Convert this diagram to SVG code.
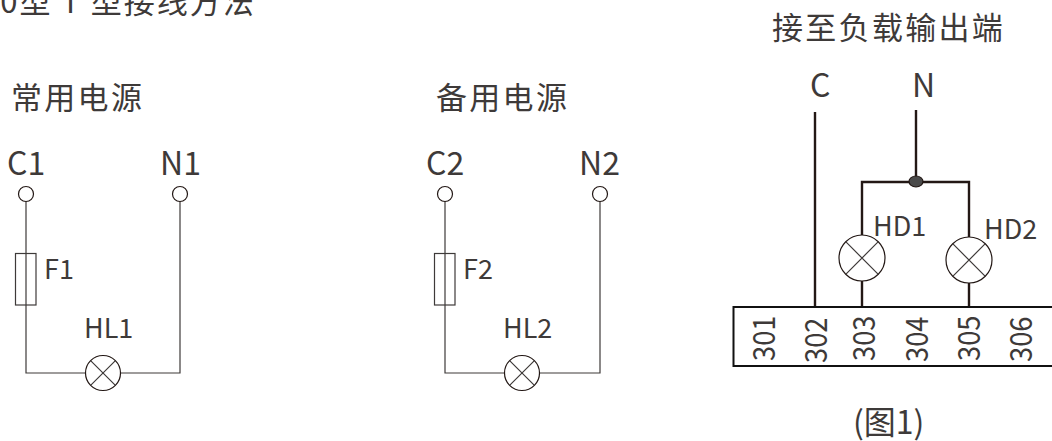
<svg xmlns="http://www.w3.org/2000/svg" width="1052" height="441" viewBox="0 0 1052 441">
<style>
text{font-family:"Noto Sans CJK SC","Noto Sans",sans-serif;fill:#3e3a39;font-size:32px}
.t{font-size:31px;letter-spacing:2.3px}
.w{fill:none;stroke:#3e3a39;stroke-width:1.2}
.k{fill:none;stroke:#231815;stroke-width:2.4}
.n{fill:#fff;stroke:#231815;stroke-width:1.2}
.m{font-size:27px}
.v{font-size:31px}
</style>
<rect width="1052" height="441" fill="#fff"/>
<g id="title"><text x="-19" y="13" class="t" style="letter-spacing:2px" xml:space="preserve">00型 T 型接线方法</text></g>
<g id="connectors">
<path class="w" d="M26 201V373H86M120 373H180V201"/>
<path class="w" d="M445 201V373H505M539 373H600V201"/>
<path class="k" d="M815 112V307M916 110V181M862 235V182H969V237M862 281V307M969 283V307"/>
</g>
<g id="load-title"><text x="772" y="39" class="t">接至负载输出端</text></g>
<g id="group1-title"><text x="11" y="109" class="t">常用电源</text></g>
<g id="group2-title"><text x="436" y="109" class="t">备用电源</text></g>
<g id="C1"><circle class="n" cx="26" cy="194" r="7.5"/><text x="7" y="175">C1</text></g>
<g id="N1"><circle class="n" cx="180" cy="194" r="7.5"/><text x="160" y="175">N1</text></g>
<g id="C2"><circle class="n" cx="445" cy="194" r="7.5"/><text x="426" y="175">C2</text></g>
<g id="N2"><circle class="n" cx="600" cy="194" r="7.5"/><text x="579" y="175">N2</text></g>
<g id="F1"><rect class="w" x="15.5" y="253.5" width="20.5" height="51.5"/><text class="m" x="44" y="279">F1</text></g>
<g id="F2"><rect class="w" x="434.5" y="253.5" width="20.5" height="51.5"/><text class="m" x="463" y="279">F2</text></g>
<g id="HL1"><circle class="n" cx="103" cy="373" r="17.5"/><path class="w" d="M90.6 360.6L115.4 385.4M115.4 360.6L90.6 385.4"/><text class="m" x="84" y="338">HL1</text></g>
<g id="HL2"><circle class="n" cx="522" cy="373" r="17.5"/><path class="w" d="M509.6 360.6L534.4 385.4M534.4 360.6L509.6 385.4"/><text class="m" x="503" y="338">HL2</text></g>
<g id="C"><text x="810" y="97">C</text></g>
<g id="N"><text x="912" y="97">N</text></g>
<g id="junction"><ellipse cx="916" cy="181.5" rx="7" ry="5.5" fill="#4a4a4a" stroke="#231815" stroke-width="1.2"/></g>
<g id="HD1"><circle class="n" cx="862" cy="258" r="23"/><path class="w" d="M845.7 241.7L878.3 274.3M878.3 241.7L845.7 274.3"/><text class="m" x="873" y="236">HD1</text></g>
<g id="HD2"><circle class="n" cx="969" cy="260" r="23"/><path class="w" d="M952.7 243.7L985.3 276.3M985.3 243.7L952.7 276.3"/><text class="m" x="984" y="239">HD2</text></g>
<g id="terminal-block">
<path d="M1052 307H733.5V366H1052" fill="none" stroke="#111" stroke-width="2"/>
<text class="v" transform="translate(775 361) rotate(-90) scale(.88 1)">301</text>
<text class="v" transform="translate(827 363) rotate(-90) scale(.88 1)">302</text>
<text class="v" transform="translate(875 361) rotate(-90) scale(.88 1)">303</text>
<text class="v" transform="translate(928 362) rotate(-90) scale(.88 1)">304</text>
<text class="v" transform="translate(980 361) rotate(-90) scale(.88 1)">305</text>
<text class="v" transform="translate(1032 362) rotate(-90) scale(.88 1)">306</text>
</g>
<g id="caption"><text x="853" y="434">(图1)</text></g>
</svg>
